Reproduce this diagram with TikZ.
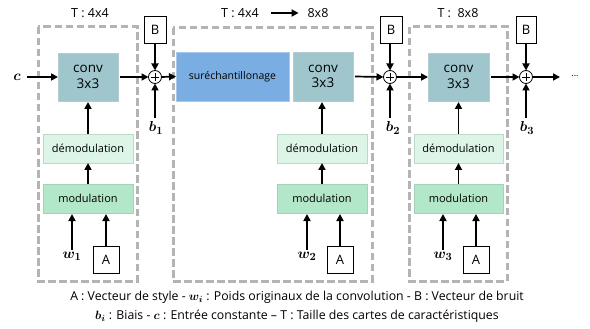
\documentclass[tikz,border=0pt]{standalone}
\usepackage{amsmath}
\usepackage{bm}
\usepackage{fontspec}
\setmainfont{Open Sans}
\usetikzlibrary{arrows.meta}
\definecolor{convfill}{HTML}{9FC5CD}
\definecolor{convline}{HTML}{B5CDD2}
\definecolor{upfill}{HTML}{7AAEE3}
\definecolor{upline}{HTML}{A8C8EC}
\definecolor{demfill}{HTML}{DCF5E7}
\definecolor{demline}{HTML}{BCD9C8}
\definecolor{modfill}{HTML}{B3E7CA}
\definecolor{modline}{HTML}{A3D2B8}
\definecolor{dashgray}{HTML}{B4B4B4}
\begin{document}
\begin{tikzpicture}[x=1pt,y=-1pt,
  every node/.style={inner sep=0pt,outer sep=0pt},
  convbox/.style={draw=convline,fill=convfill,line width=0.8pt,minimum width=60pt,minimum height=48pt,font=\fontsize{13.5}{15.5}\selectfont,align=center},
  upbox/.style={draw=upline,fill=upfill,line width=0.8pt,minimum width=113pt,minimum height=49pt,font=\fontsize{10.5}{12}\selectfont},
  dembox/.style={draw=demline,fill=demfill,line width=0.8pt,minimum width=90pt,minimum height=29pt,font=\fontsize{11}{12}\selectfont},
  modbox/.style={draw=modline,fill=modfill,line width=0.8pt,minimum width=90pt,minimum height=29pt,font=\fontsize{11}{12}\selectfont},
  vecbox/.style={draw=black,fill=white,line width=0.7pt,minimum width=22pt,minimum height=27pt,font=\fontsize{13}{14}\selectfont},
  plusnode/.style={draw=black,fill=white,circle,line width=0.8pt,minimum size=13pt,
    path picture={\draw[line width=0.7pt] ([xshift=-4pt]path picture bounding box.center) -- ([xshift=4pt]path picture bounding box.center);
                  \draw[line width=0.7pt] ([yshift=-4pt]path picture bounding box.center) -- ([yshift=4pt]path picture bounding box.center);}},
  stage/.style={draw=dashgray,line width=3pt,dash pattern=on 7.5pt off 3.5pt},
  arr/.style={line width=1.7pt,-{Triangle[length=7pt,width=7pt]}},
  lbl/.style={font=\fontsize{15}{16}\selectfont},
  ttl/.style={font=\fontsize{12.5}{14}\selectfont},
  captext/.style={font=\fontsize{12.3}{14}\selectfont}
]
\useasboundingbox (0,0) rectangle (590,329);
% dashed stages
\draw[stage] (38,27) rectangle (137,281);
\draw[stage] (173,28) rectangle (372,281);
\draw[stage] (409,27) rectangle (507,281);
% titles
\node[ttl] (t1) at (90,13) {T : 4x4};
\node[ttl] (t2a) at (240,13) {T : 4x4};
\node[ttl] (t2b) at (318,13) {8x8};
\node[ttl] (t3) at (458,13) {T :\ \ 8x8};
\draw[arr] ([xshift=12pt]t2a.east) -- ([xshift=-9pt]t2b.west);
% main blocks
\node[convbox] (conv1) at (88,77) {conv\\3x3};
\node[upbox] (up) at (232.5,76.5) {suréchantillonage};
\node[convbox,minimum height=49pt] (conv2) at (323,76.5) {conv\\3x3};
\node[convbox,minimum width=61pt] (conv3) at (458.5,77) {conv\\3x3};
\node[dembox] (dem1) at (88,148.5) {démodulation};
\node[modbox] (mod1) at (88,198.5) {modulation};
\node[dembox] (dem2) at (322,148.5) {démodulation};
\node[modbox] (mod2) at (322,198.5) {modulation};
\node[dembox,minimum width=89pt] (dem3) at (458.5,148.5) {démodulation};
\node[modbox,minimum width=89pt] (mod3) at (458.5,198.5) {modulation};
% noise and style vectors
\node[vecbox] (B1) at (155,29.5) {B};
\node[vecbox] (B2) at (391,29.5) {B};
\node[vecbox,minimum width=20pt] (B3) at (526,29.5) {B};
\node[vecbox,minimum width=26pt] (A1) at (106,259.5) {A};
\node[vecbox,minimum width=26pt] (A2) at (340,259.5) {A};
\node[vecbox,minimum width=26pt] (A3) at (476,259.5) {A};
% adders
\node[plusnode] (p1) at (155,77) {};
\node[plusnode] (p2) at (390,77) {};
\node[plusnode] (p3) at (526,77) {};
% labels
\node[lbl] (c) at (17,77) {$\bm{c}$};
\node[lbl] (b1) at (156,128) {$\bm{b_1}$};
\node[lbl] (b2) at (393,128) {$\bm{b_2}$};
\node[lbl] (b3) at (527,128) {$\bm{b_3}$};
\node[lbl] (w1) at (72,256) {$\bm{w_1}$};
\node[lbl] (w2) at (307,256) {$\bm{w_2}$};
\node[lbl] (w3) at (443,256) {$\bm{w_3}$};
\coordinate (out) at (560,77);
\node[font=\fontsize{9}{10}\selectfont] (dots) at (575,76) {...};
% horizontal flow
\draw[arr] ([xshift=6pt]c.east) -- (conv1.west);
\draw[arr] ([xshift=2pt]conv1.east) -- (p1.west);
\draw[arr] (p1.east) -- (up.west);
\draw[arr] ([xshift=2pt]conv2.east) -- (p2.west);
\draw[arr] (p2.east) -- (conv3.west);
\draw[arr] ([xshift=2pt]conv3.east) -- (p3.west);
\draw[arr] (p3.east) -- (out);
% noise
\draw[arr] (B1.south) -- (p1.north);
\draw[arr] (B2.south -| p2) -- (p2.north);
\draw[arr] (B3.south) -- (p3.north);
\draw[arr] ([yshift=4pt]b1.north -| p1) -- (p1.south);
\draw[arr] ([yshift=4pt]b2.north -| p2) -- (p2.south);
\draw[arr] ([yshift=4pt]b3.north -| p3) -- (p3.south);
% vertical flows
\foreach \i in {1,2,3}{
  \draw[arr] (mod\i.north) -- (dem\i.south);
  \draw[arr] ([yshift=2pt]w\i.north) -- ([yshift=-1pt]w\i.north |- mod\i.south);
  \draw[arr] (A\i.north) -- ([yshift=-1pt]A\i.north |- mod\i.south);
}
\draw[arr] (dem1.north) -- ([yshift=-1pt]conv1.south);
\draw[arr] (dem2.north) -- ([yshift=-1pt]dem2.north |- conv2.south);
\draw[arr] (dem3.north) -- ([yshift=-1pt]conv3.south);
% caption
\node[captext] (cap1) at (297,297) {A : Vecteur de style - $\bm{w_i}$ : Poids originaux de la convolution - B : Vecteur de bruit};
\node[captext] (cap2) at (297,316) {$\bm{b_i}$ : Biais - $\bm{c}$ : Entrée constante – T : Taille des cartes de caractéristiques};
\end{tikzpicture}
\end{document}
